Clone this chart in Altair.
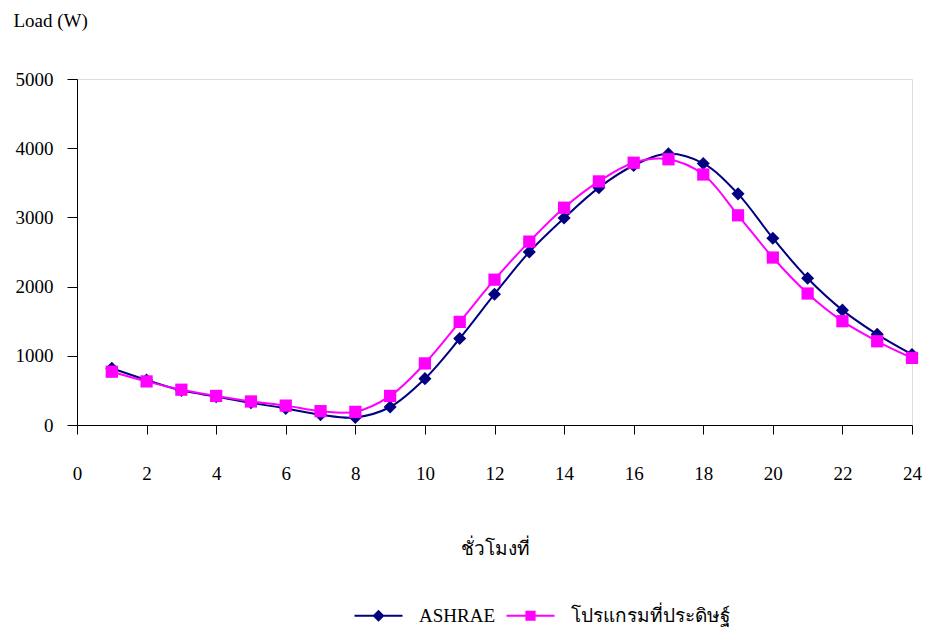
import altair as alt
import pandas as pd

hours = list(range(1, 25))
ashrae = [820, 650, 500, 410, 320, 240, 150, 110, 260, 670, 1250, 1890,
          2500, 2990, 3430, 3750, 3920, 3780, 3340, 2700, 2120, 1660, 1310, 1020]
program = [770, 630, 510, 420, 340, 280, 200, 190, 420, 890, 1490, 2100,
           2650, 3140, 3520, 3790, 3840, 3620, 3030, 2420, 1900, 1500, 1210, 970]
series_names = ["ASHRAE", "โปรแกรมที่ประดิษฐ์"]
series_colors = ["#000080", "#FF00FF"]
x_ticks = list(range(0, 25, 2))
y_ticks = [0, 1000, 2000, 3000, 4000, 5000]

df = pd.DataFrame({
    "hour": hours * 2,
    "load": ashrae + program,
    "series": [series_names[0]] * len(hours) + [series_names[1]] * len(hours),
})

FONT = "'Liberation Serif', 'Times New Roman', serif"
FS = 19

x_enc = alt.X(
    "hour:Q",
    scale=alt.Scale(domain=[0, 24], nice=False, zero=False),
    axis=alt.Axis(
        values=x_ticks, title="ชั่วโมงที่", grid=False, format="d",
        domainColor="black", tickColor="black", tickSize=9, labelPadding=30,
        labelFont=FONT, labelFontSize=FS, labelColor="black",
        titleFont=FONT, titleFontSize=FS, titleFontWeight="normal", titleColor="black",
        titleX=418, titleY=123, titleBaseline="middle", titleAlign="center",
        labelFlush=False, labelOverlap=False,
    ),
)
y_enc = alt.Y(
    "load:Q",
    scale=alt.Scale(domain=[0, 5000], nice=False),
    axis=alt.Axis(
        values=y_ticks, title="Load (W)", grid=False, format="d",
        domainColor="black", tickColor="black", tickSize=10, labelPadding=14,
        labelFont=FONT, labelFontSize=FS, labelColor="black",
        titleFont=FONT, titleFontSize=FS, titleFontWeight="normal", titleColor="black",
        titleAngle=0, titleX=-64, titleY=-59, titleAlign="left", titleBaseline="middle",
        labelFlush=False, labelOverlap=False,
    ),
)

shapes = ["diamond", "square"]
sizes = [170, 150]
layers = []
for name, col, shp, sz in zip(series_names, series_colors, shapes, sizes):
    sub = alt.Chart(df).transform_filter(alt.datum.series == name)
    layers.append(sub.mark_line(color=col, strokeWidth=2, interpolate="catmull-rom").encode(x=x_enc, y=y_enc))
    layers.append(sub.mark_point(shape=shp, filled=True, size=sz, color=col, opacity=1).encode(x=x_enc, y=y_enc))

path_diamond = "M-4,-0.15L4,-0.15L4,0.15L-4,0.15Z M0,-1L1,0L0,1L-1,0Z"
path_square = "M-4,-0.15L4,-0.15L4,0.15L-4,0.15Z M-0.85,-0.85L0.85,-0.85L0.85,0.85L-0.85,0.85Z"

leg = alt.Legend(
    orient="none", legendX=292, legendY=527, direction="horizontal", title=None,
    labelFont=FONT, labelFontSize=FS, labelColor="black", labelOffset=31,
    symbolSize=144, symbolStrokeWidth=0, columnPadding=10, padding=0,
    symbolOpacity=1,
)
legend_layer = alt.Chart(df).transform_filter("false").mark_point(filled=True, opacity=1).encode(
    x=x_enc, y=y_enc,
    color=alt.Color("series:N", scale=alt.Scale(domain=series_names, range=series_colors), legend=leg),
    shape=alt.Shape("series:N", scale=alt.Scale(domain=series_names, range=[path_diamond, path_square]), legend=leg),
)
layers.append(legend_layer)

chart = alt.layer(*layers).properties(
    width=835, height=346,
    autosize=alt.AutoSizeParams(type="none"),
    padding={"left": 77, "top": 79, "right": 13, "bottom": 205},
).configure_view(stroke="#8c8c8c", strokeWidth=2).configure(background="white")

chart.save("out.html", embed_options={"renderer": "svg", "actions": False})
